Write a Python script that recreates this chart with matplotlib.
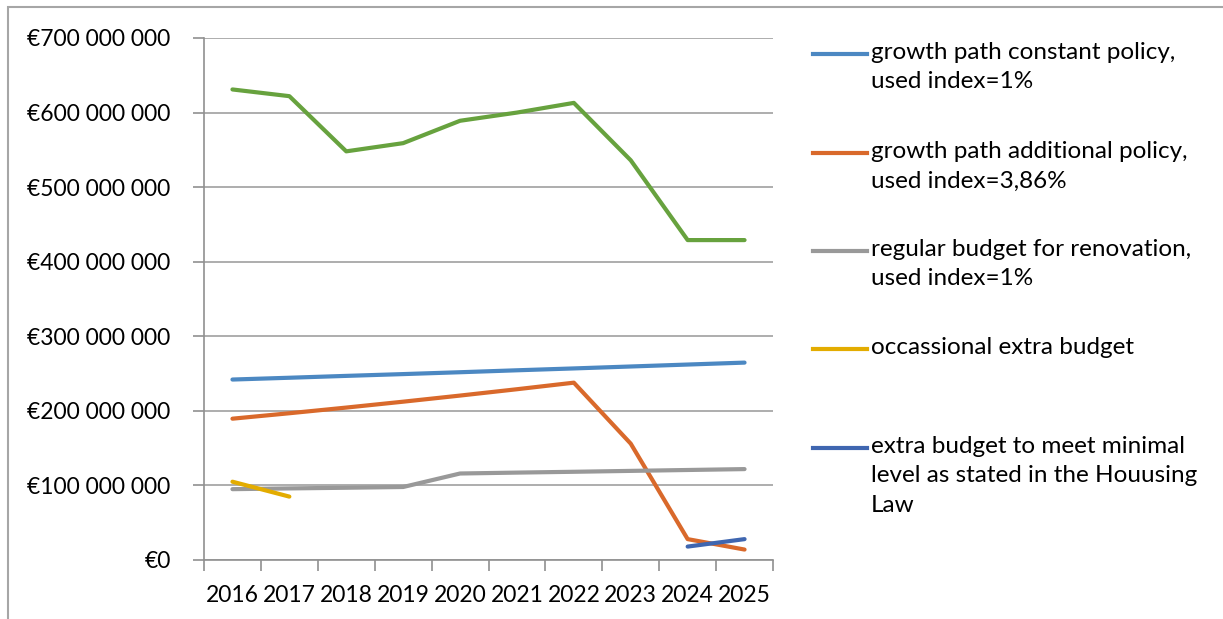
import matplotlib
matplotlib.use('Agg')
import matplotlib.pyplot as plt
from matplotlib.lines import Line2D
from matplotlib.patches import Rectangle
from matplotlib.ticker import FuncFormatter, MultipleLocator

plt.rcParams['font.family'] = ['Lato', 'DejaVu Sans']

years = ['2016', '2017', '2018', '2019', '2020', '2021', '2022', '2023', '2024', '2025']

constant_policy = [242e6, 244.4e6, 246.9e6, 249.3e6, 251.8e6, 254.4e6, 256.9e6, 259.5e6, 262.1e6, 264.7e6]
additional_policy = [189.5e6, 196.8e6, 204.4e6, 212.3e6, 220.5e6, 229.0e6, 237.8e6, 156e6, 28e6, 14e6]
regular_budget = [95e6, 96e6, 96.9e6, 97.9e6, 116e6, 117.2e6, 118.3e6, 119.5e6, 120.7e6, 121.9e6]
occasional_years = ['2016', '2017']
occasional_extra = [105e6, 85e6]
minimal_years = ['2024', '2025']
minimal_extra = [18e6, 28e6]
total = [631e6, 622e6, 548e6, 559e6, 589e6, 600e6, 613e6, 536e6, 429e6, 429e6]

labels = ['growth path constant policy,\nused index=1%',
          'growth path additional policy,\nused index=3,86%',
          'regular budget for renovation,\nused index=1%',
          'occassional extra budget',
          'extra budget to meet minimal\nlevel as stated in the Houusing\nLaw']
colors = ['#4C88C2', '#D9692B', '#999999', '#E3AC00', '#3F66B0', '#67A23E']

W, H = 1223, 619
fig = plt.figure(figsize=(W / 100, H / 100), dpi=100)
ax = fig.add_axes([204 / W, 1 - 560 / H, (773 - 204) / W, (560 - 38) / H])

xpos = {y: i for i, y in enumerate(years)}
lw = 3
ax.plot([xpos[y] for y in years], total, color=colors[5], lw=lw, solid_capstyle='round')
ax.plot([xpos[y] for y in years], constant_policy, color=colors[0], lw=lw, solid_capstyle='round')
ax.plot([xpos[y] for y in years], additional_policy, color=colors[1], lw=lw, solid_capstyle='round')
ax.plot([xpos[y] for y in years], regular_budget, color=colors[2], lw=lw, solid_capstyle='round')
ax.plot([xpos[y] for y in occasional_years], occasional_extra, color=colors[3], lw=lw, solid_capstyle='round')
ax.plot([xpos[y] for y in minimal_years], minimal_extra, color=colors[4], lw=lw, solid_capstyle='round')

ax.set_xlim(-0.5, len(years) - 0.5)
ax.set_ylim(0, 700e6)
ax.yaxis.set_major_locator(MultipleLocator(100e6))
ax.yaxis.set_major_formatter(FuncFormatter(
    lambda v, p: '€0' if v == 0 else '€' + f'{int(v):,}'.replace(',', ' ')))
ax.grid(axis='y', color='#A0A0A0', lw=1.2)
ax.set_axisbelow(True)

ax.set_xticks([i - 0.5 for i in range(len(years) + 1)])
ax.set_xticklabels([])
ax.set_xticks(range(len(years)), minor=True)
ax.set_xticklabels(years, minor=True)
ax.tick_params(axis='x', which='major', length=8, color='#909090', width=1.2)
ax.tick_params(axis='x', which='minor', length=0, pad=18, labelsize=16.5)
ax.tick_params(axis='y', length=8, color='#909090', width=1.2, pad=16, labelsize=16.5)

for s in ['top', 'right']:
    ax.spines[s].set_visible(False)
for s in ['left', 'bottom']:
    ax.spines[s].set_color('#909090')
    ax.spines[s].set_linewidth(1.2)

# legend drawn by hand (Excel style spacing)
leg_y = [54, 153, 251, 349, 448]
for lab, c, yy in zip(labels, colors[:5], leg_y):
    fig.add_artist(Line2D([813 / W, 867 / W], [1 - yy / H, 1 - yy / H], color=c, lw=3))
    fig.text(871 / W, 1 - (yy - 12) / H, lab, fontsize=17.5, va='top', ha='left',
             linespacing=1.5)

# chart-area border
fig.add_artist(Rectangle((8 / W, -0.1), 1.2, 1 - 7 / H + 0.1, transform=fig.transFigure,
                         fill=False, edgecolor='#A6A6A6', lw=1.5))

fig.savefig('out.png', dpi=100)
